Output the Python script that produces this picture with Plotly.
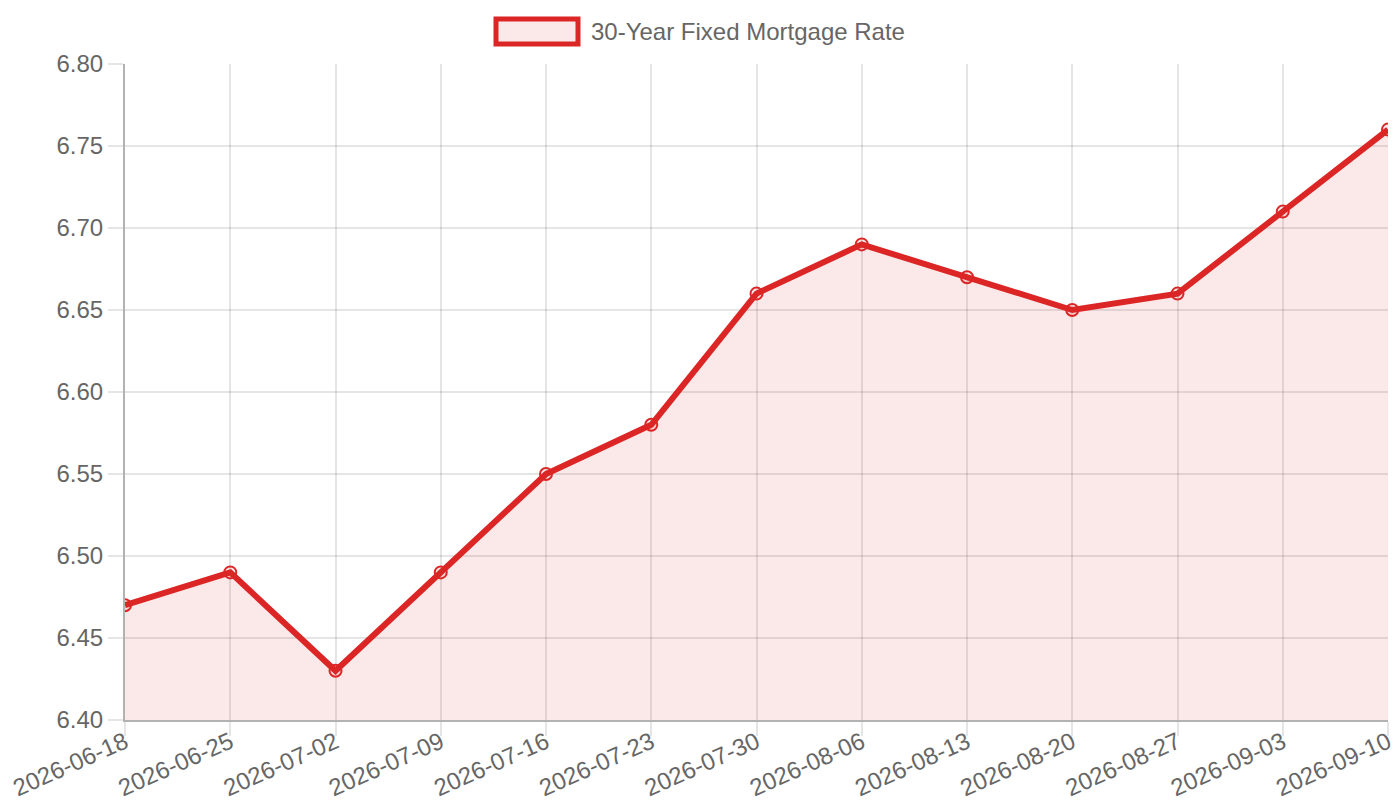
import plotly.graph_objects as go

# weekly 30-year fixed mortgage rate
dates = ["2026-06-18", "2026-06-25", "2026-07-02", "2026-07-09", "2026-07-16",
         "2026-07-23", "2026-07-30", "2026-08-06", "2026-08-13", "2026-08-20",
         "2026-08-27", "2026-09-03", "2026-09-10"]
rates = [6.47, 6.49, 6.43, 6.49, 6.55, 6.58, 6.66, 6.69, 6.67, 6.65, 6.66, 6.71, 6.76]
series_name = "30-Year Fixed Mortgage Rate"

RED = "rgb(220,38,38)"
FILL = "rgba(220,38,38,0.1)"
GRID = "rgba(0,0,0,0.1)"
FONT = "Liberation Sans, Arial, sans-serif"

fig = go.Figure()
fig.add_trace(go.Scatter(
    x=dates, y=rates, name=series_name,
    mode="lines+markers",
    line=dict(color=RED, width=6),
    marker=dict(size=12, color=FILL, line=dict(color=RED, width=2)),
    fill="tozeroy", fillcolor=FILL,
    showlegend=False,
))

axis_common = dict(
    showgrid=True, gridcolor=GRID, gridwidth=2,
    ticks="outside", tickcolor=GRID, tickwidth=2,
    showline=True, linecolor="rgba(0,0,0,0.3)", linewidth=2,
    tickfont=dict(family=FONT, size=24, color="#666"),
    zeroline=False, automargin=False,
)

fig.update_layout(
    width=1400, height=800,
    margin=dict(l=125, r=12, t=64, b=80),
    plot_bgcolor="white", paper_bgcolor="white",
    font=dict(family=FONT, color="#666"),
    xaxis=dict(type="category", range=[0, len(dates) - 1], tickangle=-24,
               ticklen=14, ticklabelstandoff=-17, **axis_common),
    yaxis=dict(range=[6.40, 6.80], dtick=0.05, tickformat=".2f",
               ticklen=15, **axis_common),
)

# legend box drawn like the chart's own legend
fig.add_shape(type="rect", xref="paper", yref="paper",
              x0=(496 - 125) / 1263, x1=(578 - 125) / 1263,
              y0=1 + (64 - 44) / 656, y1=1 + (64 - 19) / 656,
              line=dict(color=RED, width=5), fillcolor="rgba(220,38,38,0.1)")
fig.add_annotation(text=series_name, xref="paper", yref="paper",
                   x=(589 - 125) / 1263, y=1 + (64 - 32) / 656,
                   xanchor="left", yanchor="middle", showarrow=False,
                   font=dict(family=FONT, size=24, color="#666"))

fig.write_html("out.html", config={"displayModeBar": False},
               post_script="document.body.style.margin='0';")
